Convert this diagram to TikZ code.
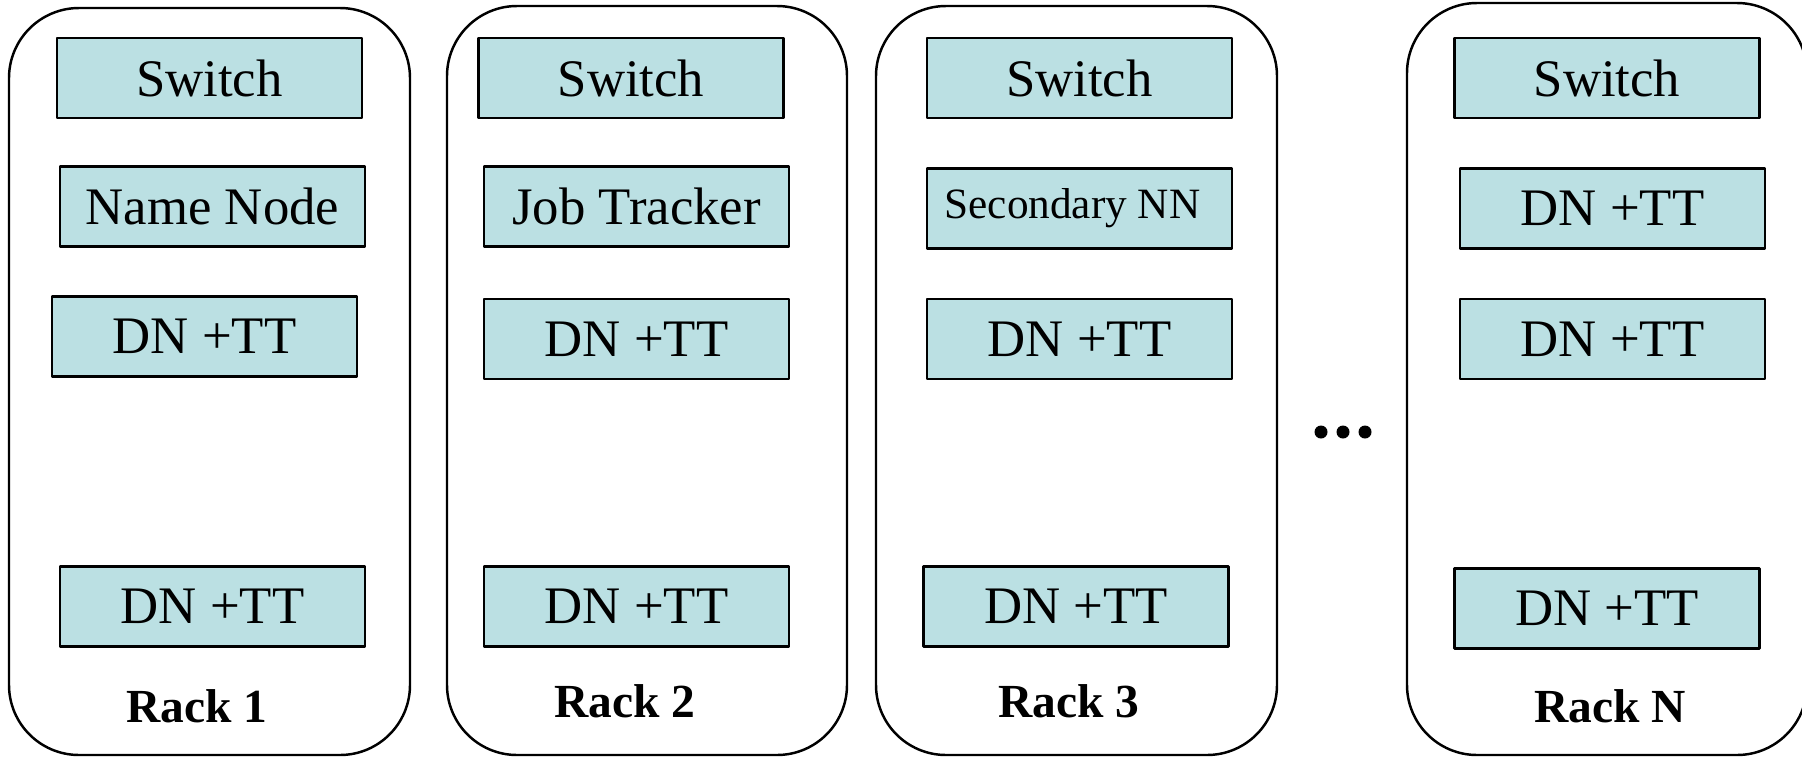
\documentclass[tikz,border=0pt]{standalone}
\usepackage{fontspec}
\setmainfont{Liberation Serif}
\definecolor{boxfill}{RGB}{187,224,227}
\tikzset{
  rackbox/.style={draw=black,line width=0.7pt,rounded corners=0.7cm},
  srvbox/.style={draw=black,line width=0.7pt,fill=boxfill,minimum width=3.05cm,minimum height=0.8cm,inner sep=0pt,font=\fontsize{15}{18}\selectfont},
  rackname/.style={anchor=base,font=\fontsize{13.5}{16}\selectfont\bfseries}
}

\begin{document}
\begin{tikzpicture}[line cap=round,line join=round,x=0.01cm,y=-0.01cm]
			\clip(0,0) rectangle (1802,757);
			% racks
			\draw [rackbox] (9,8) rectangle (410,755);
			\draw [rackbox] (447,6) rectangle (847,755);
			\draw [rackbox] (876,6) rectangle (1277,755);
			\draw [rackbox] (1407,3) rectangle (1807,755);
			% rack 1
			\node [srvbox] (sw1) at (209.5,78) {Switch};
			\node [srvbox] (nn) at (212.5,206.5) {Name Node};
			\node [srvbox] (dn11) at (204.5,336.5) {DN +TT};
			\node [srvbox] (dn12) at (212.5,606.5) {DN +TT};
			\node [rackname] (r1) at (197,722) {Rack 1};
			% rack 2
			\node [srvbox] (sw2) at (631,78) {Switch};
			\node [srvbox] (jt) at (636.5,206.5) {Job Tracker};
			\node [srvbox] (dn21) at (636.5,339) {DN +TT};
			\node [srvbox] (dn22) at (636.5,606.5) {DN +TT};
			\node [rackname] (r2) at (625,717) {Rack 2};
			% rack 3
			\node [srvbox] (sw3) at (1079.5,78) {Switch};
			\node [srvbox,font=\fontsize{12.3}{14}\selectfont] (snn) at (1079.5,208.5) {Secondary NN\kern4pt};
			\node [srvbox] (dn31) at (1079.5,339) {DN +TT};
			\node [srvbox] (dn32) at (1076,606.5) {DN +TT};
			\node [rackname] (r3) at (1069,717) {Rack 3};
			% rack N
			\node [srvbox] (swN) at (1607,78) {Switch};
			\node [srvbox] (dnN1) at (1612.5,208.5) {DN +TT};
			\node [srvbox] (dnN2) at (1612.5,339) {DN +TT};
			\node [srvbox] (dnN3) at (1607,608.5) {DN +TT};
			\node [rackname] (rN) at (1610,722) {Rack N};
			% dots
			\foreach \x in {1321,1343,1365}
				\fill [black] (\x,432) circle [radius=0.065cm];
		\end{tikzpicture}
\end{document}
